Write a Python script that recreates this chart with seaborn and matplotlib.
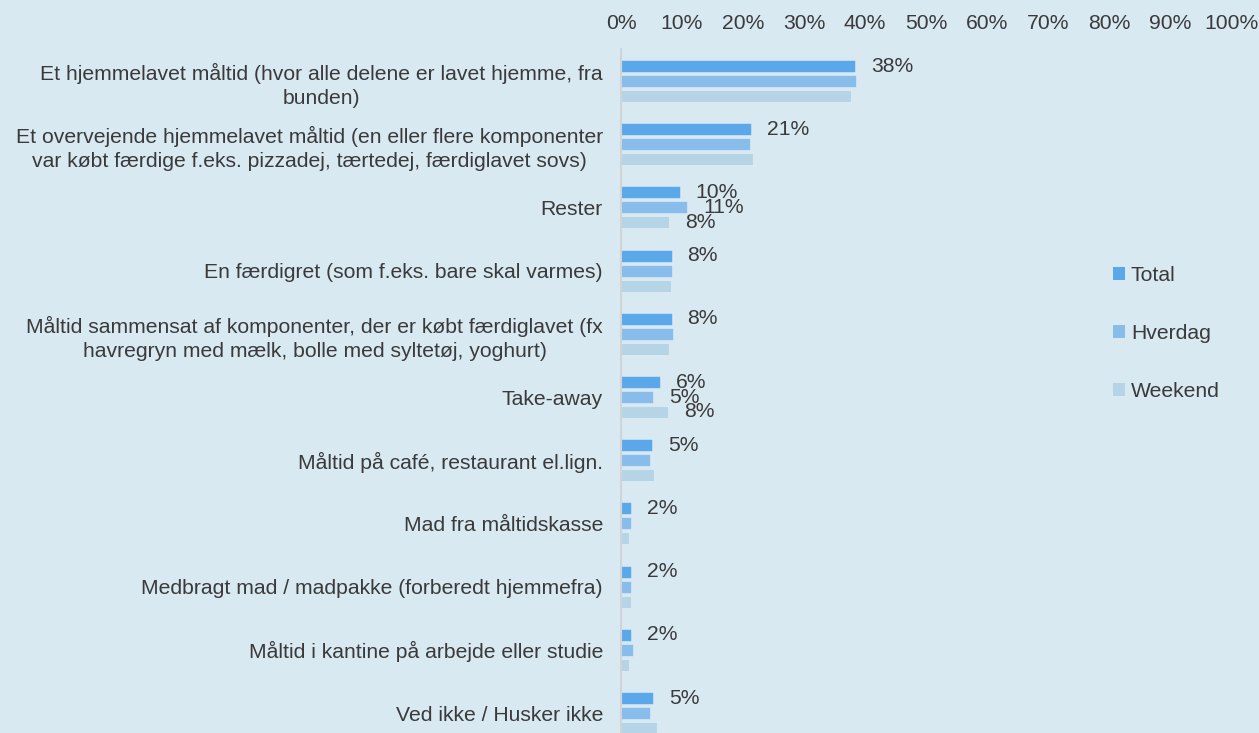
import matplotlib
matplotlib.use("Agg")
import matplotlib.pyplot as plt
from matplotlib.patches import Patch
import seaborn as sns
import pandas as pd

# Survey answers (share of respondents, %)
categories = [
    "Et hjemmelavet måltid (hvor alle delene er lavet hjemme, fra\nbunden)",
    "Et overvejende hjemmelavet måltid (en eller flere komponenter\nvar købt færdige f.eks. pizzadej, tærtedej, færdiglavet sovs)",
    "Rester",
    "En færdigret (som f.eks. bare skal varmes)",
    "Måltid sammensat af komponenter, der er købt færdiglavet (fx\nhavregryn med mælk, bolle med syltetøj, yoghurt)",
    "Take-away",
    "Måltid på café, restaurant el.lign.",
    "Mad fra måltidskasse",
    "Medbragt mad / madpakke (forberedt hjemmefra)",
    "Måltid i kantine på arbejde eller studie",
    "Ved ikke / Husker ikke",
]
series = ["Total", "Hverdag", "Weekend"]
total = [38.4, 21.3, 9.6, 8.3, 8.3, 6.4, 5.1, 1.6, 1.6, 1.6, 5.3]
hverdag = [38.6, 21.1, 10.9, 8.4, 8.6, 5.3, 4.8, 1.6, 1.6, 1.9, 4.7]
weekend = [37.7, 21.6, 7.9, 8.2, 7.9, 7.7, 5.4, 1.3, 1.6, 1.3, 5.9]
x_ticks = [0, 10, 20, 30, 40, 50, 60, 70, 80, 90, 100]

# which bars carry a value label
labelled = {
    "Total": set(range(len(categories))),
    "Hverdag": {2, 5},
    "Weekend": {2, 5},
}

colors = ["#5aa7e9", "#88bceb", "#b5d5e7"]
bg = "#d9e9f2"
txt = "#3a3a3a"
fs = 15.2

df = pd.DataFrame({
    "Kategori": categories * 3,
    "Andel": total + hverdag + weekend,
    "Serie": [s for s in series for _ in categories],
})

sns.set_style("white")
plt.rcParams["font.family"] = ["Liberation Sans", "DejaVu Sans"]
plt.rcParams["font.size"] = fs

fig = plt.figure(figsize=(12.59, 7.33), dpi=100, facecolor=bg)
ax = fig.add_axes([621 / 1259, 1 - 744.6 / 733, 610 / 1259, 695.2 / 733])
ax.set_facecolor(bg)

sns.barplot(
    data=df, y="Kategori", x="Andel", hue="Serie", orient="h",
    order=categories, hue_order=series, palette=colors, saturation=1,
    width=0.71, gap=0.2, legend=False, ax=ax,
    edgecolor=(1, 1, 1, 0.35), linewidth=0.8,
)

for s_name, cont in zip(series, ax.containers):
    for i, bar in enumerate(cont):
        if i in labelled[s_name]:
            val = bar.get_width()
            ax.annotate(
                f"{val:.0f}%",
                (val, bar.get_y() + bar.get_height() / 2),
                xytext=(11.5, 0), textcoords="offset points",
                ha="left", va="center", color=txt, fontsize=fs,
            )

ax.set_xlim(0, 100)
ax.set_xticks(x_ticks)
ax.set_xticklabels([f"{t}%" for t in x_ticks])
ax.xaxis.tick_top()
ax.tick_params(axis="x", length=0, pad=12, colors=txt, labelsize=fs)
ax.tick_params(axis="y", length=0, pad=13, colors=txt, labelsize=fs)
for lab in ax.get_yticklabels():
    lab.set_multialignment("center")
    lab.set_linespacing(1.35)
ax.set_xlabel("")
ax.set_ylabel("")
for side in ["top", "right", "bottom"]:
    ax.spines[side].set_visible(False)
ax.spines["left"].set_color("#d0d4d6")
ax.spines["left"].set_linewidth(1.5)

handles = [Patch(facecolor=c, edgecolor="none") for c in colors]
fig.legend(
    handles, series, loc="upper left",
    bbox_to_anchor=(1094 / 1259, 1 - 247 / 733),
    frameon=False, handlelength=0.55, handleheight=0.55,
    handletextpad=0.3, labelspacing=1.85, fontsize=fs,
    labelcolor=txt,
)

fig.savefig("out.png", dpi=100, facecolor=bg)
